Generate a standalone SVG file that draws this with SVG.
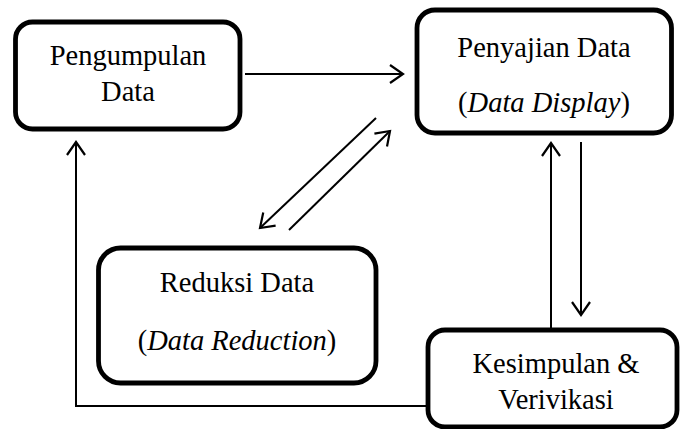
<svg xmlns="http://www.w3.org/2000/svg" width="680" height="429" viewBox="0 0 680 429">
<style>
.box{fill:#fff;stroke:#000;stroke-width:4.8}
.t{font-family:'Liberation Serif','Times New Roman',serif;font-size:28.5px;fill:#000;text-anchor:middle}
.i{font-style:italic}
.c{fill:none;stroke:#000;stroke-width:2}
</style>
<defs>
<marker id="ah" markerUnits="userSpaceOnUse" markerWidth="30" markerHeight="30" viewBox="-15 -15 30 30" refX="0" refY="0" orient="auto">
<path d="M-13,-9 L0,0 L-13,9" fill="none" stroke="#000" stroke-width="2.2"/>
</marker>
</defs>
<rect width="680" height="429" fill="#fff"/>
<g id="connectors">
<line class="c" x1="245" y1="74" x2="403" y2="74" marker-end="url(#ah)"/>
<line class="c" x1="376" y1="118" x2="260" y2="228" marker-end="url(#ah)"/>
<line class="c" x1="289" y1="230" x2="390" y2="131" marker-end="url(#ah)"/>
<line class="c" x1="551" y1="329" x2="551" y2="143" marker-end="url(#ah)"/>
<line class="c" x1="581" y1="142" x2="581" y2="315" marker-end="url(#ah)"/>
<polyline class="c" points="428,406 76,406 76,142" marker-end="url(#ah)"/>
</g>
<g id="pengumpulan">
<rect class="box" x="15.5" y="22" width="224.5" height="107" rx="17"/>
<text class="t" x="128" y="65">Pengumpulan</text>
<text class="t" x="128" y="101">Data</text>
</g>
<g id="penyajian">
<rect class="box" x="417" y="10" width="254.5" height="123" rx="18"/>
<text class="t" x="544" y="57">Penyajian Data</text>
<text class="t" x="544" y="112">(<tspan class="i">Data Display</tspan>)</text>
</g>
<g id="reduksi">
<rect class="box" x="98.5" y="248" width="277.5" height="135" rx="22"/>
<text class="t" x="237" y="292">Reduksi Data</text>
<text class="t" x="237" y="350">(<tspan class="i">Data Reduction</tspan>)</text>
</g>
<g id="kesimpulan">
<rect class="box" x="428" y="330" width="249" height="97" rx="17"/>
<text class="t" x="556" y="373">Kesimpulan &amp;</text>
<text class="t" x="556" y="409">Verivikasi</text>
</g>
</svg>
